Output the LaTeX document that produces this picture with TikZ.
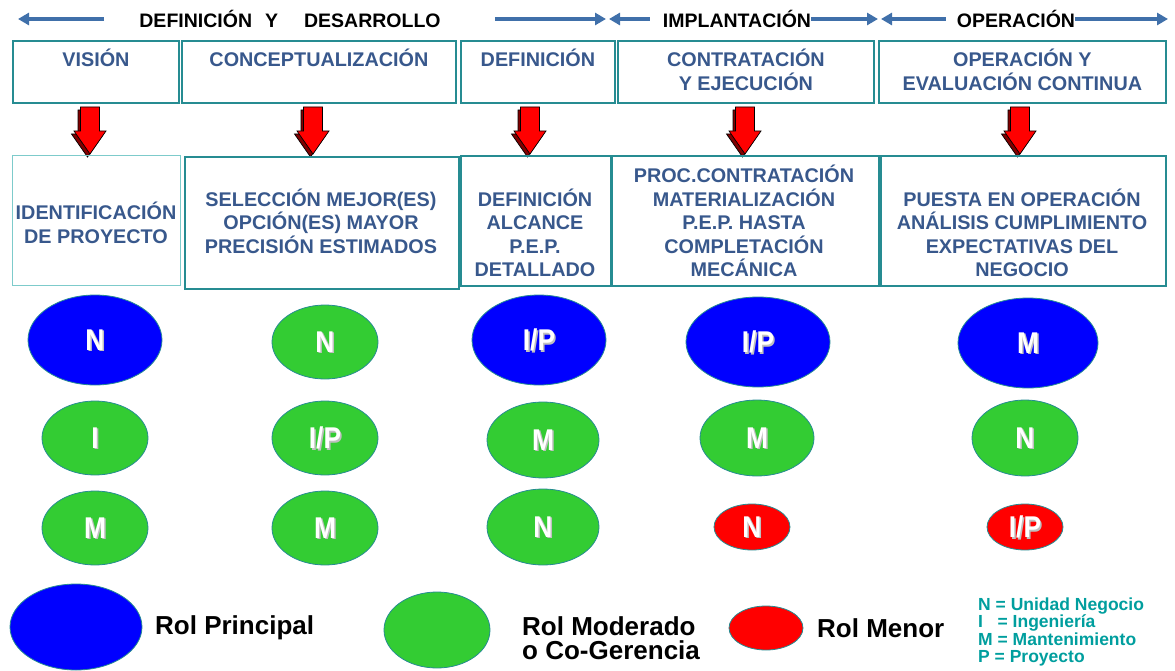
\documentclass[tikz,border=0pt]{standalone}
\usepackage{fontspec}
\setmainfont{Liberation Sans}
\newfontfamily\rolfamily[FakeStretch=0.88]{Liberation Sans}
\usetikzlibrary{arrows.meta, positioning, shapes.geometric, calc}
\definecolor{boxteal}{RGB}{38,140,146}
\definecolor{lightteal}{RGB}{125,203,203}
\definecolor{textblue}{RGB}{56,88,140}
\definecolor{arrowblue}{RGB}{64,112,170}
\definecolor{rolblue}{RGB}{0,0,255}
\definecolor{rolgreen}{RGB}{51,204,51}
\definecolor{rolred}{RGB}{255,0,0}
\definecolor{darkred}{RGB}{128,0,0}
\definecolor{legendteal}{RGB}{0,158,158}
\newcommand{\rolfont}{\rolfamily\fontsize{30}{30}\selectfont\bfseries}
\tikzset{
    downarrow/.pic={
        \draw[fill=darkred, line width=0.7pt] (-12,3)--(7,3)--(7,27)--(13.5,27)--(-2.5,50)--(-18.5,27)--(-12,27)--cycle;
        \draw[fill=rolred, line width=0.7pt] (-9.5,0)--(9.5,0)--(9.5,24)--(16,24)--(0,47)--(-16,24)--(-9.5,24)--cycle;
    }
}
\begin{document}
\begin{tikzpicture}[
        x=1pt, y=-1pt,
        phase/.style={font=\fontsize{19.5}{21}\selectfont\bfseries, inner sep=0pt},
        hdrarrow/.style={-{Triangle[length=11pt, width=12pt]}, draw=arrowblue, line width=3.5pt},
        stagebox/.style={rectangle, draw=boxteal, line width=1.8pt, minimum height=62pt, anchor=north west},
        taskbox/.style={rectangle, draw=boxteal, line width=1.8pt, minimum height=130pt, anchor=north west},
        stagetext/.style={align=center, text=textblue, font=\fontsize{19.8}{23.5}\selectfont\bfseries, inner sep=0pt},
        rol/.style={ellipse, draw=boxteal, line width=0.8pt, inner sep=0pt, text=white, font=\rolfont,
            path picture={\node[text=gray!50, font=\rolfont] at ($(path picture bounding box.center)+(1.5,1.5)$) {#1};}},
        bigrol/.style={minimum width=134pt, minimum height=90pt},
        midrol/.style={minimum width=106pt, minimum height=74pt},
        smallrol/.style={minimum width=76pt, minimum height=46pt},
        legrol/.style={ellipse, draw=boxteal, line width=0.8pt},
        legendtext/.style={font=\fontsize{26}{24}\selectfont\bfseries, align=left, anchor=west, inner sep=0pt}
    ]
    \useasboundingbox (0,0) rectangle (1175,671);

    % Phases
    \node[phase] (dyd) at (290,19) {DEFINICIÓN\hspace{13pt}Y\hspace{26pt}DESARROLLO};
    \node[phase] (impl) at (737,19) {IMPLANTACIÓN};
    \node[phase] (oper) at (1016,19) {OPERACIÓN};
    \coordinate (dyd-l) at (18,19);
    \coordinate (dyd-r) at (606,19);
    \coordinate (impl-l) at (609,19);
    \coordinate (impl-r) at (878,19);
    \coordinate (oper-l) at (881,19);
    \coordinate (oper-r) at (1168,19);
    \draw[hdrarrow, shorten <=35pt] (dyd.west) -- (dyd-l);
    \draw[hdrarrow, shorten <=54pt] (dyd.east) -- (dyd-r);
    \draw[hdrarrow, shorten <=13pt] (impl.west) -- (impl-l);
    \draw[hdrarrow] (impl.east) -- (impl-r);
    \draw[hdrarrow, shorten <=11pt] (oper.west) -- (oper-l);
    \draw[hdrarrow] (oper.east) -- (oper-r);

    % Stages
    \node[stagebox, minimum width=166pt] (vision) at (12,40) {};
    \node[stagebox, minimum width=274pt] (concept) at (181,40) {};
    \node[stagebox, minimum width=154pt] (defin) at (460,40) {};
    \node[stagebox, minimum width=256pt] (contrat) at (617,40) {};
    \node[stagebox, minimum width=287pt] (operev) at (878,40) {};
    \node[stagetext, below=9pt of vision.north] (vision-t) {VISIÓN};
    \node[stagetext, below=9pt of concept.north] (concept-t) {CONCEPTUALIZACIÓN};
    \node[stagetext, below=9pt of defin.north] (defin-t) {DEFINICIÓN};
    \node[stagetext, below=9pt of contrat.north] (contrat-t) {CONTRATACIÓN\\Y EJECUCIÓN};
    \node[stagetext, below=9pt of operev.north] (operev-t) {OPERACIÓN Y\\EVALUACIÓN CONTINUA};

    % Red arrows
    \foreach \ax in {90,313,530,745,1020}
        \pic at (\ax,107) {downarrow};

    % Tasks
    \node[taskbox, draw=lightteal, line width=1.3pt, minimum width=168pt] (ident) at (12,155) {};
    \node[taskbox, minimum width=274pt, minimum height=132pt] (selec) at (184,156) {};
    \node[taskbox, minimum width=150pt] (alcance) at (460,155) {};
    \node[taskbox, minimum width=267pt] (proc) at (611,155) {};
    \node[taskbox, minimum width=285pt] (puesta) at (880,155) {};
    \node[stagetext] (ident-t) at (96,223) {IDENTIFICACIÓN\\DE PROYECTO};
    \node[stagetext] (selec-t) at (321,221) {SELECCIÓN MEJOR(ES)\\OPCIÓN(ES) MAYOR\\PRECISIÓN ESTIMADOS};
    \node[stagetext] (alcance-t) at (535,233) {DEFINICIÓN\\ALCANCE\\P.E.P.\\DETALLADO};
    \node[stagetext] (proc-t) at (744,221) {PROC.CONTRATACIÓN\\MATERIALIZACIÓN\\P.E.P. HASTA\\COMPLETACIÓN\\MECÁNICA};
    \node[stagetext] (puesta-t) at (1022,233) {PUESTA EN OPERACIÓN\\ANÁLISIS CUMPLIMIENTO\\EXPECTATIVAS DEL\\NEGOCIO};

    % Roles
    \node[rol=N, bigrol, fill=rolblue] (r11) at (95,340) {N};
    \node[rol=N, midrol, fill=rolgreen] (r12) at (325,342) {N};
    \node[rol=I/P, bigrol, fill=rolblue] (r13) at (539,340) {I/P};
    \node[rol=I/P, bigrol, fill=rolblue, minimum width=144pt] (r14) at (758,342) {I/P};
    \node[rol=M, bigrol, fill=rolblue, minimum width=140pt] (r15) at (1028,343) {M};

    \node[rol=I, midrol, fill=rolgreen] (r21) at (95,438) {I};
    \node[rol=I/P, midrol, fill=rolgreen] (r22) at (325,438) {I/P};
    \node[rol=M, midrol, fill=rolgreen, minimum width=112pt, minimum height=76pt] (r23) at (543,440) {M};
    \node[rol=M, midrol, fill=rolgreen, minimum width=114pt, minimum height=76pt] (r24) at (757,438) {M};
    \node[rol=N, midrol, fill=rolgreen, minimum height=76pt] (r25) at (1025,438) {N};

    \node[rol=M, midrol, fill=rolgreen] (r31) at (95,528) {M};
    \node[rol=M, midrol, fill=rolgreen] (r32) at (325,528) {M};
    \node[rol=N, midrol, fill=rolgreen, minimum width=112pt, minimum height=76pt] (r33) at (543,527) {N};
    \node[rol=N, smallrol, fill=rolred] (r34) at (752,527) {N};
    \node[rol=I/P, smallrol, fill=rolred] (r35) at (1025,527) {I/P};

    % Legend
    \node[legrol, fill=rolblue, minimum width=132pt, minimum height=86pt] (leg-blue) at (76,627) {};
    \node[legendtext] (leg-blue-t) at (155,628) {Rol Principal};
    \node[legrol, fill=rolgreen, minimum width=106pt, minimum height=76pt] (leg-green) at (437,630) {};
    \node[legendtext] (leg-green-t) at (522,638) {Rol Moderado\\o Co-Gerencia};
    \node[legrol, fill=rolred, minimum width=74pt, minimum height=44pt] (leg-red) at (766,628) {};
    \node[legendtext] (leg-red-t) at (817,628) {Rol Menor};
    \node[anchor=west, align=left, text=legendteal, inner sep=0pt,
          font=\fontsize{17.5}{17.5}\selectfont\bfseries] (key) at (978,632)
          {N = Unidad Negocio\\I\ \ \ = Ingeniería\\M = Mantenimiento\\P = Proyecto};
\end{tikzpicture}
\end{document}
